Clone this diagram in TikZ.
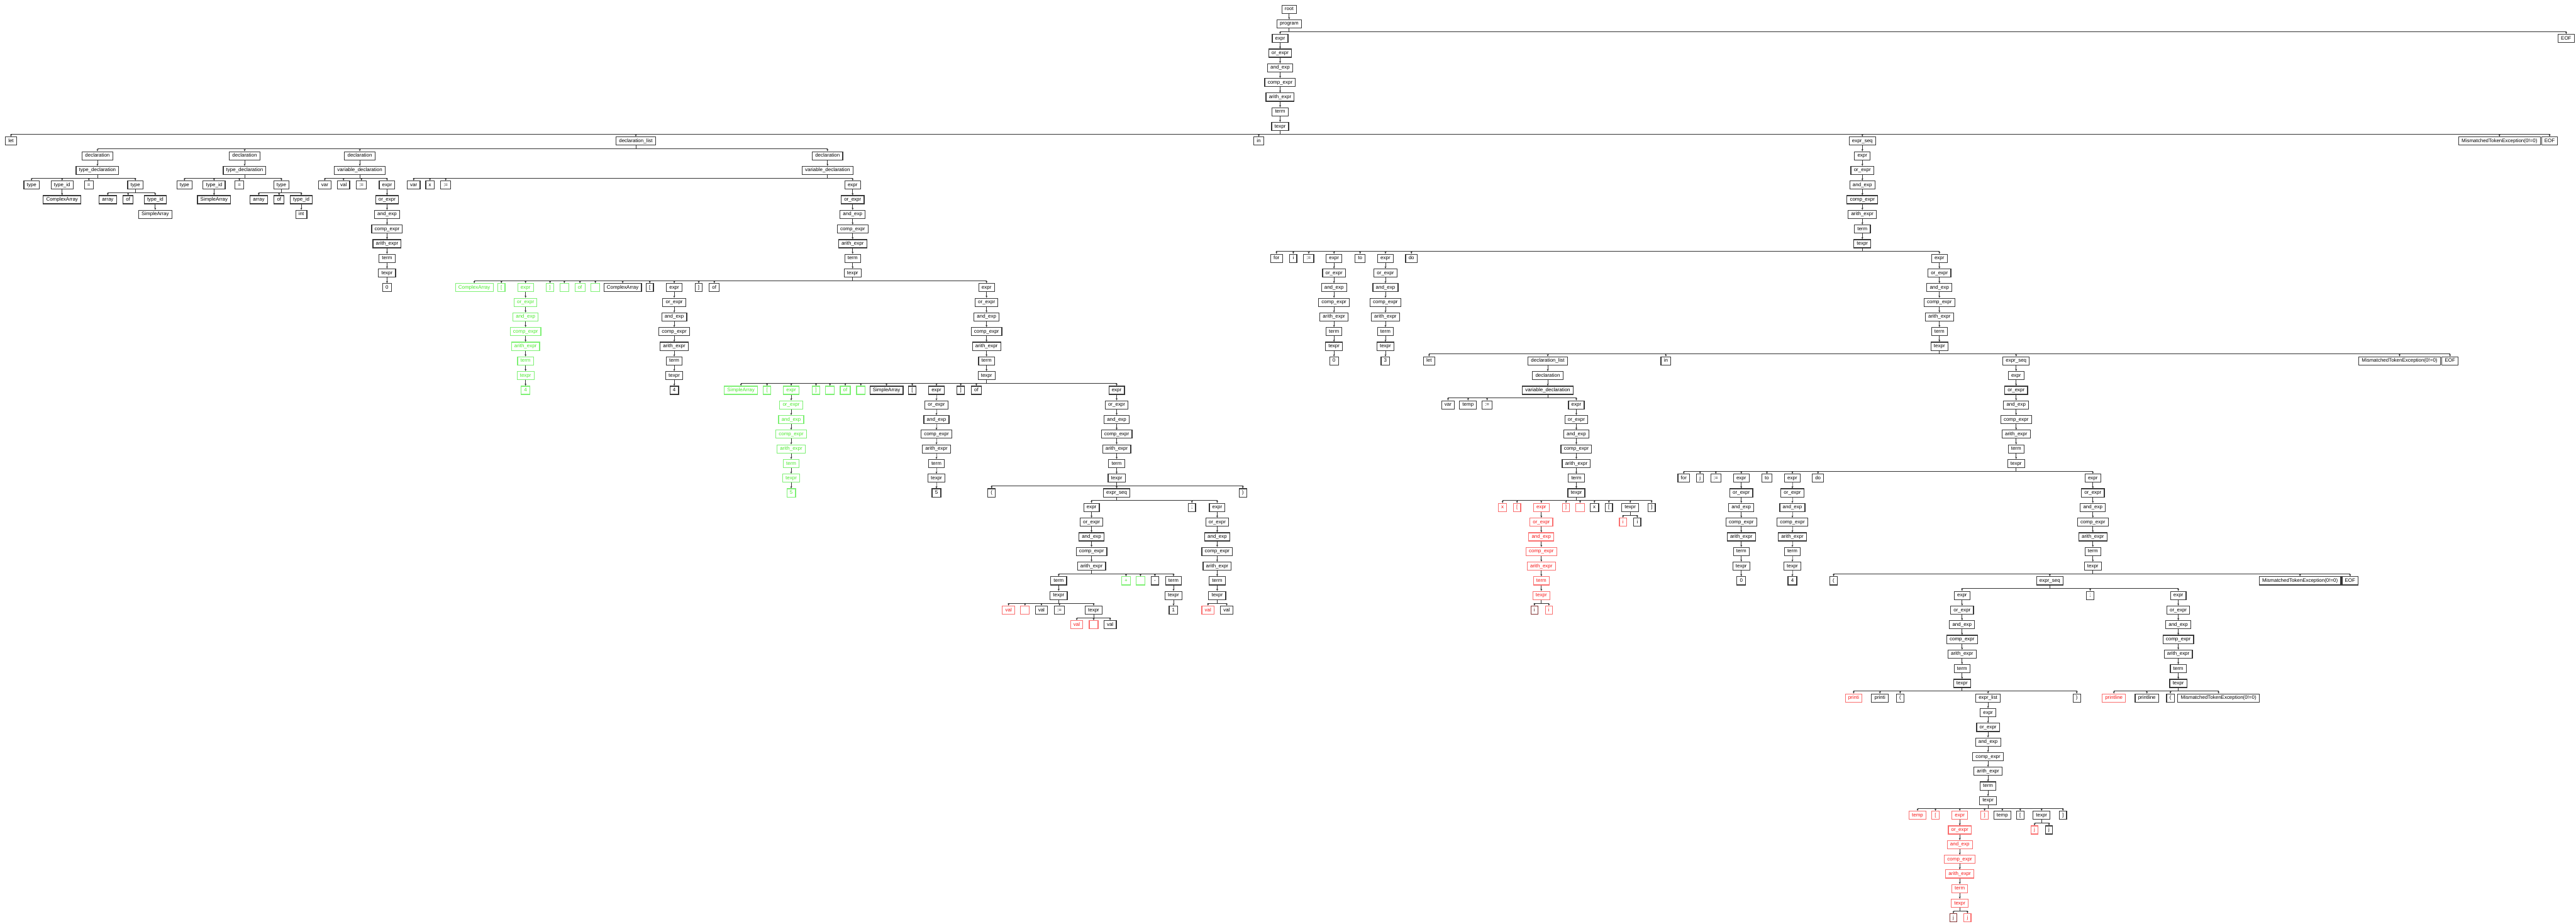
\documentclass[tikz,border=0pt]{standalone}
\usepackage{fontspec}
\setmainfont{Liberation Sans}
\usetikzlibrary{arrows.meta}
\definecolor{bord}{RGB}{55,55,55}
\definecolor{lcol}{RGB}{50,50,50}
\definecolor{gtext}{RGB}{70,235,40}
\definecolor{gbord}{RGB}{125,240,115}
\definecolor{rtext}{RGB}{250,20,20}
\definecolor{rbord}{RGB}{250,110,110}
\definecolor{dbord}{RGB}{130,50,50}
\definecolor{dtext}{RGB}{70,20,20}
\newcommand\tnfont{\fontsize{3.05}{3.6}\selectfont}
\newcommand\nd[5][tn]{\node[#1] (#2) at (#3,{-(5.6+8.92*(#4))}) {#5};}
\newcommand\ed[2]{\draw[conn] (#1.south) -- ++(0,-1.96) -| (#2.north);}
\newcommand\eds[2]{\foreach \kid in {#2}{\ed{#1}{\kid}}}
\newcommand\echA[4][tn]{%
  \nd[#1]{#2E}{#3}{#4}{expr}
  \nd[#1]{#2O}{#3}{#4+1}{or\_expr}
  \nd[#1]{#2A}{#3}{#4+2}{and\_exp}
  \nd[#1]{#2C}{#3}{#4+3}{comp\_expr}
  \nd[#1]{#2R}{#3}{#4+4}{arith\_expr}
  \ed{#2E}{#2O}\ed{#2O}{#2A}\ed{#2A}{#2C}\ed{#2C}{#2R}}
\newcommand\ech[4][tn]{\echA[#1]{#2}{#3}{#4}%
  \nd[#1]{#2M}{#3}{#4+5}{term}
  \nd[#1]{#2T}{#3}{#4+6}{texpr}
  \ed{#2R}{#2M}\ed{#2M}{#2T}}
\tikzset{
  tn/.style={draw=bord, line width=0.45pt, font=\tnfont, text=black, fill=white,
    inner xsep=1.8pt, inner ysep=0pt, minimum height=5pt, text height=2.2pt, text depth=0.65pt},
  gn/.style={tn, draw=gbord, text=gtext},
  rn/.style={tn, draw=rbord, text=rtext},
  dn/.style={tn, draw=dbord, text=dtext},
  conn/.style={draw=lcol, line width=0.3pt, -{Stealth[length=1.3pt,width=1.1pt]}}
}
\begin{document}
\begin{tikzpicture}[x=1pt,y=1pt]
\path[fill=white,use as bounding box] (0,0) rectangle (1568,-562.33);
% top
\nd{root}{784.7}{0}{root}
\nd{prog}{784.7}{1}{program}
\ed{root}{prog}
\ech{t}{779.2}{2}
\nd{eofA}{1562}{2}{EOF}
\eds{prog}{tE,eofA}
% level 9
\nd{let0}{6.7}{9}{let}
\nd{dl}{387}{9}{declaration\_list}
\nd{in0}{766.2}{9}{in}
\nd{es0}{1133.6}{9}{expr\_seq}
\nd{mmA}{1521.4}{9}{MismatchedTokenException(0!=0)}
\nd{eofB}{1551.9}{9}{EOF}
\eds{tT}{let0,dl,in0,es0,mmA,eofB}
% declarations
\nd{d1}{59.3}{10}{declaration}
\nd{d2}{148.9}{10}{declaration}
\nd{d3}{219}{10}{declaration}
\nd{d4}{503.7}{10}{declaration}
\eds{dl}{d1,d2,d3,d4}
\nd{td1}{59.3}{11}{type\_declaration}
\nd{td2}{148.9}{11}{type\_declaration}
\nd{vd3}{219}{11}{variable\_declaration}
\nd{vd4}{503.7}{11}{variable\_declaration}
\ed{d1}{td1}\ed{d2}{td2}\ed{d3}{vd3}\ed{d4}{vd4}
% td1
\nd{a1}{19.2}{12}{type}
\nd{a2}{37.8}{12}{type\_id}
\nd{a3}{54.1}{12}{=}
\nd{a4}{82.4}{12}{type}
\nd{a5}{37.8}{13}{ComplexArray}
\nd{a6}{65.6}{13}{array}
\nd{a7}{78}{13}{of}
\nd{a8}{94.5}{13}{type\_id}
\nd{a9}{94.5}{14}{SimpleArray}
\eds{td1}{a1,a2,a3,a4}
\ed{a2}{a5}
\eds{a4}{a6,a7,a8}
\ed{a8}{a9}
% td2
\nd{b1}{112.3}{12}{type}
\nd{b2}{130.3}{12}{type\_id}
\nd{b3}{145.7}{12}{=}
\nd{b4}{171.3}{12}{type}
\nd{b5}{130.3}{13}{SimpleArray}
\nd{b6}{157.5}{13}{array}
\nd{b7}{169.9}{13}{of}
\nd{b8}{183.4}{13}{type\_id}
\nd{b9}{183.4}{14}{int}
\eds{td2}{b1,b2,b3,b4}
\ed{b2}{b5}
\eds{b4}{b6,b7,b8}
\ed{b8}{b9}
% vd3
\nd{c1}{197.7}{12}{var}
\nd{c2}{209.1}{12}{val}
\nd{c3}{220}{12}{:=}
\ech{c}{235.6}{12}
\nd{c0}{235.6}{19}{0}
\eds{vd3}{c1,c2,c3,cE}
\ed{cT}{c0}
% vd4
\nd{e1}{251.8}{12}{var}
\nd{e2}{261.7}{12}{x}
\nd{e3}{271.3}{12}{:=}
\ech{e}{519}{12}
\eds{vd4}{e1,e2,e3,eE}
% row 19
\nd[gn]{f1}{288.7}{19}{ComplexArray}
\nd[gn]{f2}{305.2}{19}{[}
\ech[gn]{fg}{319.9}{19}
\nd[gn]{f4}{334.8}{19}{]}
\nd[gn]{f5}{343.5}{19}{\phantom{0}}
\nd[gn]{f6}{353}{19}{of}
\nd[gn]{f7}{362.4}{19}{\phantom{0}}
\nd{f8}{379}{19}{ComplexArray}
\nd{f9}{395.5}{19}{[}
\ech{fk}{410.4}{19}
\nd{f11}{425.3}{19}{]}
\nd{f12}{434.8}{19}{of}
\ech{h}{600.5}{19}
\eds{eT}{f1,f2,fgE,f4,f5,f6,f7,f8,f9,fkE,f11,f12,hE}
\nd[gn]{fg4}{319.9}{26}{4}
\nd{fk4}{410.4}{26}{4}
\ed{fgT}{fg4}\ed{fkT}{fk4}
% row 26
\nd[gn]{g1}{451}{26}{SimpleArray}
\nd[gn]{g2}{466.9}{26}{[}
\ech[gn]{gg}{481.6}{26}
\nd[gn]{g4}{496.7}{26}{]}
\nd[gn]{g5}{505.2}{26}{\phantom{0}}
\nd[gn]{g6}{514.5}{26}{of}
\nd[gn]{g7}{524}{26}{\phantom{0}}
\nd{g8}{539.6}{26}{SimpleArray}
\nd{g9}{555.3}{26}{[}
\ech{gk}{570}{26}
\nd{g11}{584.8}{26}{]}
\nd{g12}{594.3}{26}{of}
\ech{k}{679.7}{26}
\eds{hT}{g1,g2,ggE,g4,g5,g6,g7,g8,g9,gkE,g11,g12,kE}
\nd[gn]{gg5}{481.6}{33}{5}
\nd{gk5}{570}{33}{5}
\ed{ggT}{gg5}\ed{gkT}{gk5}
% row 33
\nd{k1}{603.6}{33}{(}
\nd{kS}{679.7}{33}{expr\_seq}
\nd{k3}{756.5}{33}{)}
\eds{kT}{k1,kS,k3}
% row 34
\echA{m}{664.4}{34}
\nd{m2}{725.5}{34}{;}
\ech{n}{740.9}{34}
\eds{kS}{mE,m2,nE}
% row 39
\nd{p1}{644.4}{39}{term}
\nd[gn]{p2}{685.4}{39}{+}
\nd[gn]{p3}{694.2}{39}{\phantom{0}}
\nd{p4}{703}{39}{-}
\nd{p5}{714.3}{39}{term}
\eds{mR}{p1,p2,p3,p4,p5}
\nd{p1t}{644.4}{40}{texpr}
\nd{p5t}{714.3}{40}{texpr}
\nd{p5v}{714.3}{41}{1}
\ed{p1}{p1t}\ed{p5}{p5t}\ed{p5t}{p5v}
\nd[rn]{q1}{613.9}{41}{val}
\nd[rn]{q2}{623.9}{41}{\phantom{0}}
\nd{q3}{633.9}{41}{val}
\nd{q4}{644.9}{41}{:=}
\nd{q5}{665.7}{41}{texpr}
\eds{p1t}{q1,q2,q3,q4,q5}
\nd[rn]{q6}{655.4}{42}{val}
\nd[rn]{q7}{665.7}{42}{\phantom{0}}
\nd{q8}{675.7}{42}{val}
\eds{q5}{q6,q7,q8}
\nd[rn]{n1}{735.3}{41}{val}
\nd{n2}{746.7}{41}{val}
\eds{nT}{n1,n2}
% body: expr_seq at level 9
\ech{s}{1133.6}{10}
\ed{es0}{sE}
\nd{u1}{777}{17}{for}
\nd{u2}{787.2}{17}{i}
\nd{u3}{796.6}{17}{:=}
\ech{ua}{812}{17}
\nd{u5}{827.9}{17}{to}
\ech{ub}{843.3}{17}
\nd{u7}{859.1}{17}{do}
\ech{w}{1180.5}{17}
\eds{sT}{u1,u2,u3,uaE,u5,ubE,u7,wE}
\nd{ua0}{812}{24}{0}
\nd{ub3}{843.3}{24}{3}
\ed{uaT}{ua0}\ed{ubT}{ub3}
% row 24
\nd{w1}{869.9}{24}{let}
\nd{wD}{942.1}{24}{declaration\_list}
\nd{w3}{1014}{24}{in}
\nd{wS}{1227.2}{24}{expr\_seq}
\nd{w5}{1460.6}{24}{MismatchedTokenException(0!=0)}
\nd{w6}{1491.3}{24}{EOF}
\eds{wT}{w1,wD,w3,wS,w5,w6}
\nd{wd}{942.1}{25}{declaration}
\nd{wv}{942.1}{26}{variable\_declaration}
\ed{wD}{wd}\ed{wd}{wv}
\nd{x1}{881.4}{27}{var}
\nd{x2}{893.6}{27}{temp}
\nd{x3}{905.2}{27}{:=}
\ech{x}{959.5}{27}
\eds{wv}{x1,x2,x3,xE}
\nd[rn]{y1}{914.6}{34}{x}
\nd[rn]{y2}{923.4}{34}{[}
\ech[rn]{yr}{938.2}{34}
\nd[rn]{y4}{953.2}{34}{]}
\nd[rn]{y5}{961.8}{34}{\phantom{0}}
\nd{y6}{970.5}{34}{x}
\nd{y7}{979.3}{34}{[}
\nd{y8}{992.3}{34}{texpr}
\nd{y9}{1005.3}{34}{]}
\eds{xT}{y1,y2,yrE,y4,y5,y6,y7,y8,y9}
\nd[dn]{yr1}{934}{41}{i}
\nd[rn]{yr2}{942.8}{41}{i}
\eds{yrT}{yr1,yr2}
\nd[rn]{y81}{987.9}{35}{i}
\nd{y82}{996.6}{35}{i}
\eds{y8}{y81,y82}
% inner for
\ech{z}{1227.2}{25}
\ed{wS}{zE}
\nd{z1}{1024.9}{32}{for}
\nd{z2}{1034.8}{32}{j}
\nd{z3}{1044.4}{32}{:=}
\ech{za}{1059.9}{32}
\nd{z5}{1075.5}{32}{to}
\ech{zb}{1091}{32}
\nd{z7}{1106.6}{32}{do}
\ech{v}{1273.9}{32}
\eds{zT}{z1,z2,z3,zaE,z5,zbE,z7,vE}
\nd{za0}{1059.9}{39}{0}
\nd{zb4}{1091}{39}{4}
\ed{zaT}{za0}\ed{zbT}{zb4}
\nd{v1}{1116.1}{39}{(}
\nd{vS}{1247.7}{39}{expr\_seq}
\nd{v3}{1400}{39}{MismatchedTokenException(0!=0)}
\nd{v4}{1430.5}{39}{EOF}
\eds{vT}{v1,vS,v3,v4}
\ech{o}{1194.3}{40}
\nd{o2}{1272.3}{40}{;}
\ech{r}{1325.9}{40}
\eds{vS}{oE,o2,rE}
\nd[rn]{o11}{1128.3}{47}{printi}
\nd{o12}{1144.3}{47}{printi}
\nd{o13}{1156.6}{47}{(}
\nd{oL}{1210.1}{47}{expr\_list}
\nd{o15}{1264.1}{47}{)}
\eds{oT}{o11,o12,o13,oL,o15}
\ech{l}{1210.1}{48}
\ed{oL}{lE}
\nd[rn]{l1}{1167.2}{55}{temp}
\nd[rn]{l2}{1178.1}{55}{[}
\ech[rn]{lr}{1192.9}{55}
\nd[rn]{l4}{1208}{55}{]}
\nd{l5}{1218.8}{55}{temp}
\nd{l6}{1229.7}{55}{[}
\nd{l7}{1242.7}{55}{texpr}
\nd{l8}{1255.7}{55}{]}
\eds{lT}{l1,l2,lrE,l4,l5,l6,l7,l8}
\nd[dn]{lr1}{1189}{62}{j}
\nd[rn]{lr2}{1197.6}{62}{j}
\eds{lrT}{lr1,lr2}
\nd[rn]{l71}{1238.4}{56}{j}
\nd{l72}{1247.2}{56}{j}
\eds{l7}{l71,l72}
\nd[rn]{r1}{1286.7}{47}{printline}
\nd{r2}{1306.8}{47}{printline}
\nd{r3}{1321.1}{47}{(}
\nd{r4}{1350.4}{47}{MismatchedTokenException(0!=0)}
\eds{rT}{r1,r2,r3,r4}
\end{tikzpicture}
\end{document}
